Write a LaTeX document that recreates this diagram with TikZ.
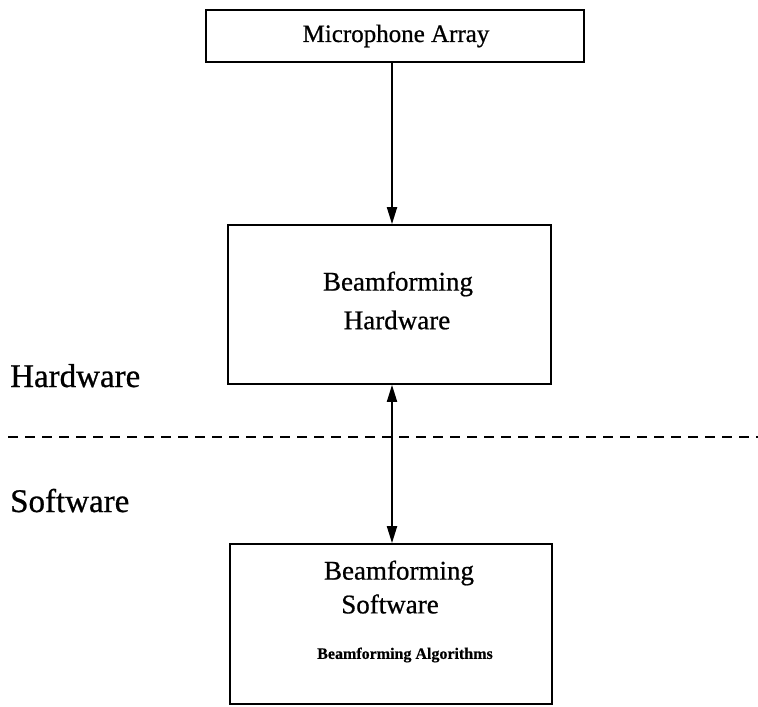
\documentclass[tikz,border=0pt]{standalone}
\usepackage{fontspec}
\setmainfont{Liberation Serif}
\newfontfamily\inkfont{Liberation Serif}[FakeBold=0.7]
\newfontfamily\inkboldfont{Liberation Serif Bold}[FakeBold=0.5]
\usetikzlibrary{arrows.meta}
\tikzset{
  blockbox/.style={draw, line width=1.7pt, inner sep=0pt},
  boxtext/.style={inner sep=0pt, font=\inkfont\fontsize{27}{32}\selectfont},
  sidetext/.style={inner sep=0pt, anchor=base west, font=\inkfont\fontsize{33}{38}\selectfont},
  tip/.style={Triangle[length=17pt,width=10pt]},
  flow/.style={line width=1.9pt, -{Triangle[length=17pt,width=10pt]}},
  bothflow/.style={line width=1.9pt, {Triangle[length=17pt,width=10pt]}-{Triangle[length=17pt,width=10pt]}},
  divider/.style={line width=1.7pt, dash pattern=on 10pt off 7pt}
}
\begin{document}
\begin{tikzpicture}[x=1pt,y=-1pt]
  \useasboundingbox (0,0) rectangle (758,707);

  % blocks
  \node[blockbox, minimum width=378pt, minimum height=52pt] (mic) at (395,36) {};
  \node[blockbox, minimum width=323pt, minimum height=159pt] (hw) at (389.5,304.5) {};
  \node[blockbox, minimum width=322pt, minimum height=160pt] (sw) at (391,624) {};

  % block captions
  \node[boxtext, font=\inkfont\fontsize{25}{30}\selectfont] (micl) at (396,36) {Microphone Array};
  \node[boxtext] (hwl1) at (398,284) {Beamforming};
  \node[boxtext] (hwl2) at (397,320) {Hardware};
  \node[boxtext] (swl1) at (399,573) {Beamforming};
  \node[boxtext] (swl2) at (390,604) {Software};
  \node[inner sep=0pt, font=\inkboldfont\fontsize{16}{19}\selectfont] (swl3) at (405,655) {Beamforming Algorithms};

  % layer labels
  \node[sidetext] (hwside) at (10,387) {Hardware};
  \node[sidetext] (swside) at (10,512) {Software};

  % hardware / software boundary
  \coordinate (divl) at (8,437);
  \coordinate (divr) at (758,437);
  \draw[divider] (divl) -- (divr);

  % signal flow
  \draw[flow] (mic.south -| 392,0) -- (hw.north -| 392,0);
  \draw[bothflow] (hw.south -| 392,0) -- (sw.north -| 392,0);
\end{tikzpicture}
\end{document}
